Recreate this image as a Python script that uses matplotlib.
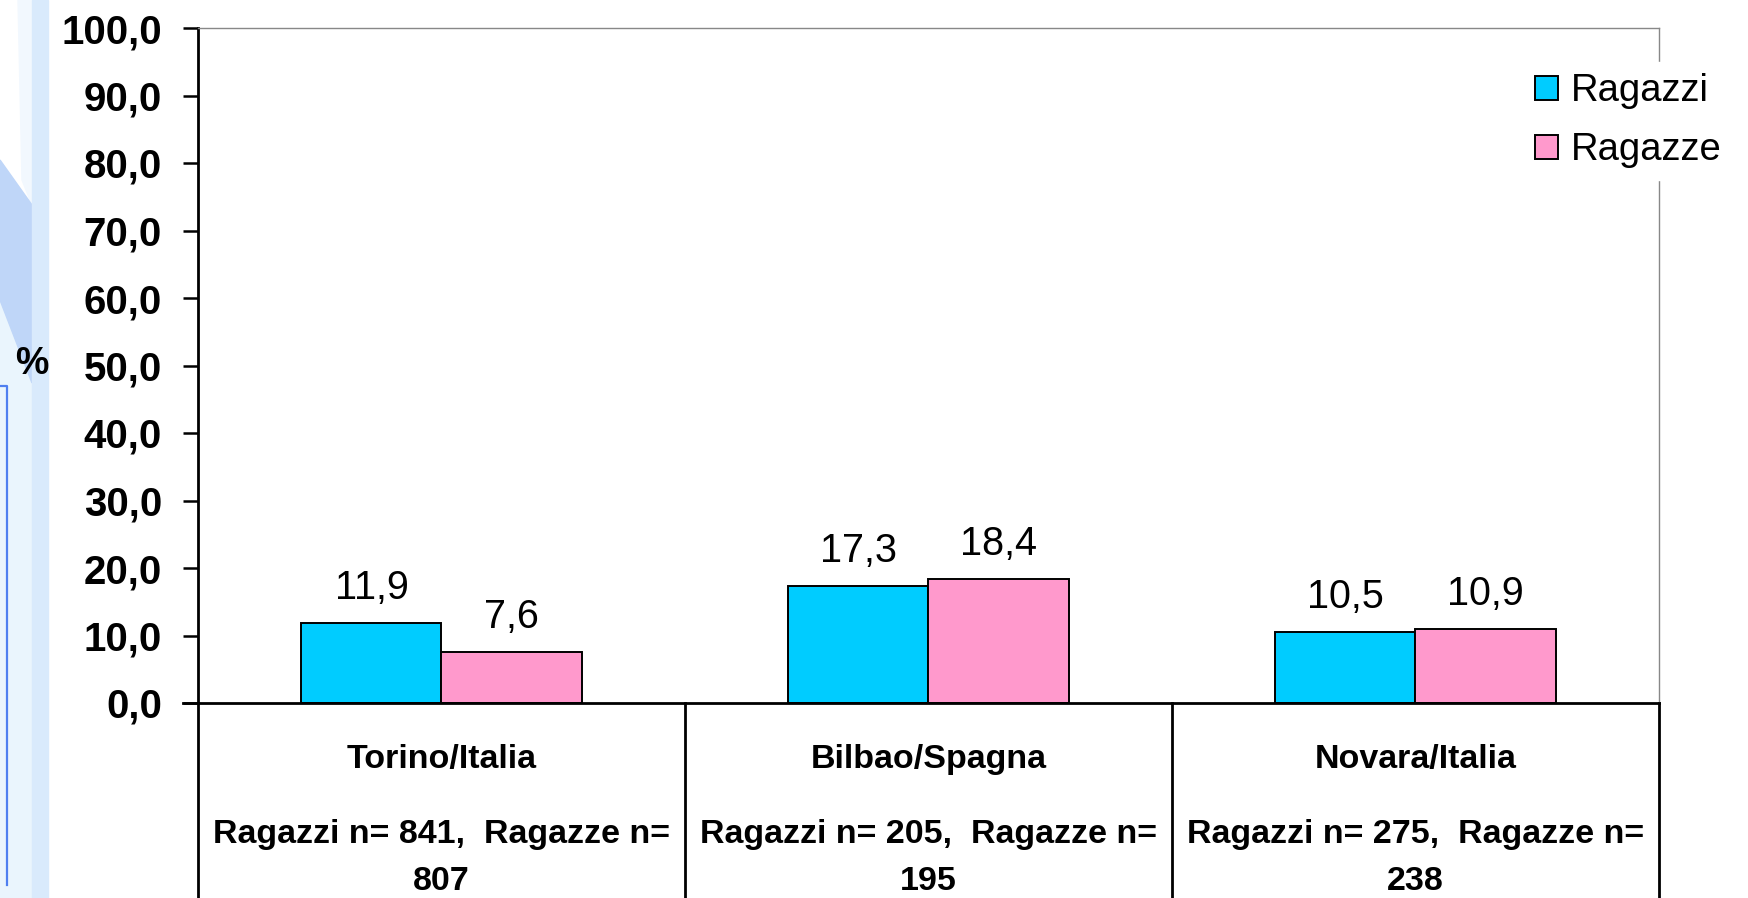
import matplotlib
matplotlib.use('Agg')
import matplotlib.pyplot as plt
from matplotlib.patches import Rectangle, Polygon
from matplotlib.lines import Line2D

# data (percent)
cities = ['Torino/Italia', 'Bilbao/Spagna', 'Novara/Italia']
n_first = ['Ragazzi n= 841,  Ragazze n=',
           'Ragazzi n= 205,  Ragazze n=',
           'Ragazzi n= 275,  Ragazze n=']
n_second = ['807', '195', '238']
ragazzi = [11.9, 17.3, 10.5]
ragazze = [7.6, 18.4, 10.9]
series_names = ['Ragazzi', 'Ragazze']
yticks = [0, 10, 20, 30, 40, 50, 60, 70, 80, 90, 100]

plt.rcParams['font.family'] = 'Liberation Sans'

W, H = 1749, 898
fig = plt.figure(figsize=(W / 100, H / 100), dpi=100)
fig.patch.set_facecolor('white')


def fx(px):
    return px / W


def fy(py):
    return 1 - py / H


# slide decoration on the left edge (drawn behind everything)
deco = [
    Rectangle((0, 0), fx(32), fy(300), color='#eaf5fd'),
    Polygon([(fx(18), fy(0)), (fx(32), fy(0)), (fx(32), fy(205)), (fx(22), fy(180))], closed=True, color='#f2f8fe'),
    Polygon([(fx(0), fy(160)), (fx(32), fy(205)), (fx(32), fy(383)), (fx(0), fy(300))], closed=True, color='#bfd6f8'),
    Rectangle((fx(32), 0), fx(16), 1, color='#d9eafc'),
]
for p in deco:
    p.set_transform(fig.transFigure)
    p.set_zorder(-2)
    fig.patches.append(p)
fig.lines.append(Line2D([fx(0), fx(7), fx(7)], [fy(386), fy(386), fy(885)],
                        transform=fig.transFigure, color='#4f7ff0', lw=1.6, zorder=-1))

ax = fig.add_axes([fx(198), fy(703), fx(1659) - fx(198), fy(28) - fy(703)])
ax.set_facecolor('white')

x = list(range(len(cities)))
w = 0.2875
b1 = ax.bar([i - w / 2 for i in x], ragazzi, w, color='#00ccff', edgecolor='black',
            linewidth=1.4, label=series_names[0], zorder=3)
b2 = ax.bar([i + w / 2 for i in x], ragazze, w, color='#ff99cc', edgecolor='black',
            linewidth=1.4, label=series_names[1], zorder=3)

for bars, vals in ((b1, ragazzi), (b2, ragazze)):
    for rect, v in zip(bars, vals):
        ax.annotate(f'{v:.1f}'.replace('.', ','),
                    (rect.get_x() + rect.get_width() / 2, v),
                    xytext=(0, 11.5), textcoords='offset points',
                    ha='center', va='bottom', fontsize=28.5)

ax.set_xlim(-0.5, 2.5)
ax.set_ylim(0, 100)
ax.set_yticks(yticks)
ax.set_yticklabels([f'{t:.1f}'.replace('.', ',') for t in yticks],
                   fontsize=29, fontweight='bold')
ax.tick_params(axis='y', direction='out', length=11, width=1.8, pad=15)
ax.set_xticks([])

for s in ('top', 'right'):
    ax.spines[s].set_color('#888888')
    ax.spines[s].set_linewidth(1.0)
for s in ('left', 'bottom'):
    ax.spines[s].set_color('black')
    ax.spines[s].set_linewidth(2.0)
ax.spines['bottom'].set_zorder(4)

# extend the 0 baseline left over the tick
ax.plot([-0.5 - 15 / 487, -0.5], [0, 0], color='black', lw=2.0, clip_on=False)

fig.text(fx(32), fy(364), '%', fontsize=27, fontweight='bold', ha='center', va='center')

# category table below the plot
xt = ax.get_xaxis_transform()
for xv in (-0.5, 0.5, 1.5, 2.5):
    ax.plot([xv, xv], [0, -0.3], transform=xt, color='black', lw=2.0, clip_on=False)
for i in x:
    ax.text(i, -0.084, cities[i], transform=xt, ha='center', va='center',
            fontsize=24.5, fontweight='bold')
    ax.text(i, -0.195, n_first[i], transform=xt, ha='center', va='center',
            fontsize=24.5, fontweight='bold')
    ax.text(i, -0.264, n_second[i], transform=xt, ha='center', va='center',
            fontsize=24.5, fontweight='bold')

leg = ax.legend(loc='upper left', bbox_to_anchor=(fx(1524), fy(62)),
                bbox_transform=fig.transFigure, fontsize=27.5,
                frameon=True, framealpha=1, facecolor='white', edgecolor='white',
                fancybox=False, handlelength=0.6, handleheight=0.6,
                handletextpad=0.33, labelspacing=0.6, borderpad=0.3,
                borderaxespad=0)
leg.set_zorder(5)

fig.savefig('out.png', dpi=100)
